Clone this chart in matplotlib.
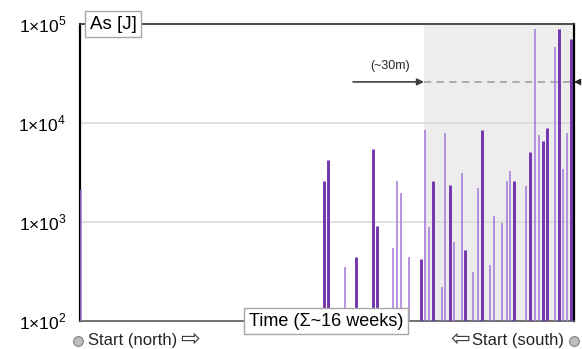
import matplotlib
matplotlib.use("Agg")
import matplotlib.pyplot as plt

# ---- data ----
days = [0.2, 55.3, 56.2, 60.0, 62.6, 66.4, 67.3, 71.0, 71.8, 72.7, 74.6,
        77.3, 78.3, 79.1, 80.1, 82.0, 82.8, 83.8, 84.7, 86.5, 87.4, 89.2,
        90.2, 91.1, 93.0, 93.9, 95.7, 96.7, 97.5, 98.5, 101.1, 102.1, 103.2,
        104.0, 104.9, 105.8, 107.7, 108.7, 109.6, 110.4, 111.3]
energy = [2100, 2600, 4200, 350, 445, 5400, 910, 550, 2600, 1950, 445,
          425, 8500, 890, 2600, 220, 7900, 2350, 630, 3100, 520, 310,
          2200, 8500, 370, 1150, 980, 2600, 3300, 2600, 2300, 5100, 89000,
          7600, 6600, 8900, 59000, 89000, 3400, 7900, 71000]
kind = ['m', 'M', 'M', 'm', 'M', 'M', 'M', 'm', 'm', 'm', 'm',
        'M', 'm', 'm', 'M', 'm', 'm', 'M', 'm', 'm', 'M', 'm',
        'm', 'M', 'm', 'm', 'm', 'm', 'm', 'M', 'm', 'M', 'm',
        'm', 'M', 'M', 'm', 'M', 'm', 'm', 'M']
yticks = [1e2, 1e3, 1e4, 1e5]
ytick_labels = [r'1×10$^{2}$', r'1×10$^{3}$', r'1×10$^{4}$', r'1×10$^{5}$']
total_days = 112
shade_start = 78.0
level_30m = 26000

plt.rcParams['font.family'] = ['Liberation Sans', 'DejaVu Sans']
plt.rcParams['mathtext.fontset'] = 'custom'
plt.rcParams['mathtext.rm'] = 'Liberation Sans'

fig = plt.figure(figsize=(5.82, 3.49), dpi=100)
ax = fig.add_axes([80/582, 1-321/349, 494/582, 297/349])
ax.set_yscale('log')
ax.set_ylim(yticks[0], yticks[-1])
ax.set_xlim(0, total_days)

ax.axvspan(shade_start, total_days, color='#EDEDED', zorder=0, lw=0)
for yv in yticks[1:-1]:
    ax.axhline(yv, color='#D9D9D9', lw=1.2, zorder=1)

for d, e, k in zip(days, energy, kind):
    if k == 'M':
        ax.vlines(d, yticks[0], e, colors='#7434B0', lw=2.1, zorder=3)
    else:
        ax.vlines(d, yticks[0], e, colors='#A477DA', lw=1.1, zorder=3)

# dashed 30m level
ax.plot([shade_start, total_days], [level_30m, level_30m], ls=(0, (4, 3)),
        color='#A6A6A6', lw=1.3, zorder=2)
ax.annotate('', xy=(shade_start, level_30m), xytext=(61.9, level_30m),
            arrowprops=dict(arrowstyle='-|>', color='#404040', lw=1.2,
                            mutation_scale=10, shrinkA=0, shrinkB=0))
ax.text(70.3, 33000, '(~30m)', ha='center', va='bottom', fontsize=9,
        color='#262626')
ax.annotate('', xy=(1.0, level_30m), xytext=(1.012, level_30m),
            xycoords=('axes fraction', 'data'), textcoords=('axes fraction', 'data'),
            arrowprops=dict(arrowstyle='-|>', color='#262626', lw=1,
                            mutation_scale=9, shrinkA=0, shrinkB=0),
            annotation_clip=False)

# axes styling
ax.set_yticks(yticks)
ax.set_yticklabels(ytick_labels, fontsize=12.5)
ax.yaxis.set_minor_locator(matplotlib.ticker.NullLocator())
ax.tick_params(axis='y', length=0, pad=10)
ax.set_xticks([])
ax.spines['left'].set_linewidth(1.6)
ax.spines['left'].set_color('#000000')
ax.spines['right'].set_linewidth(1.6)
ax.spines['right'].set_color('#000000')
ax.spines['top'].set_linewidth(1.3)
ax.spines['top'].set_color('#404040')
ax.spines['bottom'].set_linewidth(1.2)
ax.spines['bottom'].set_color('#595959')

box = dict(boxstyle='square,pad=0.25', fc='white', ec='#A6A6A6', lw=1)
ax.text(0.02, 1.0, 'As [J]', transform=ax.transAxes, ha='left', va='center',
        fontsize=13.5, bbox=box, zorder=5, clip_on=False)
ax.text(0.498, 0.0, 'Time (Σ~16 weeks)', transform=ax.transAxes, ha='center',
        va='center', fontsize=13, bbox=box, zorder=5, clip_on=False)

# start markers
yb = -0.066
ax.plot([-0.004], [yb], 'o', transform=ax.transAxes, clip_on=False,
        ms=7, mfc='#BFBFBF', mec='#808080', mew=0.8)
ax.text(0.016, yb, 'Start (north)', transform=ax.transAxes,
        ha='left', va='center', fontsize=12, color='#262626')
ax.text(0.203, yb + 0.004, '⇨', transform=ax.transAxes,
        ha='left', va='center', fontsize=17, color='#404040')
ax.plot([1.0], [yb], 'o', transform=ax.transAxes, clip_on=False,
        ms=7, mfc='#BFBFBF', mec='#808080', mew=0.8)
ax.text(0.98, yb, 'Start (south)', transform=ax.transAxes,
        ha='right', va='center', fontsize=12, color='#262626')
ax.text(0.789, yb + 0.004, '⇦', transform=ax.transAxes,
        ha='right', va='center', fontsize=17, color='#404040')

fig.savefig('out.png', dpi=100)
